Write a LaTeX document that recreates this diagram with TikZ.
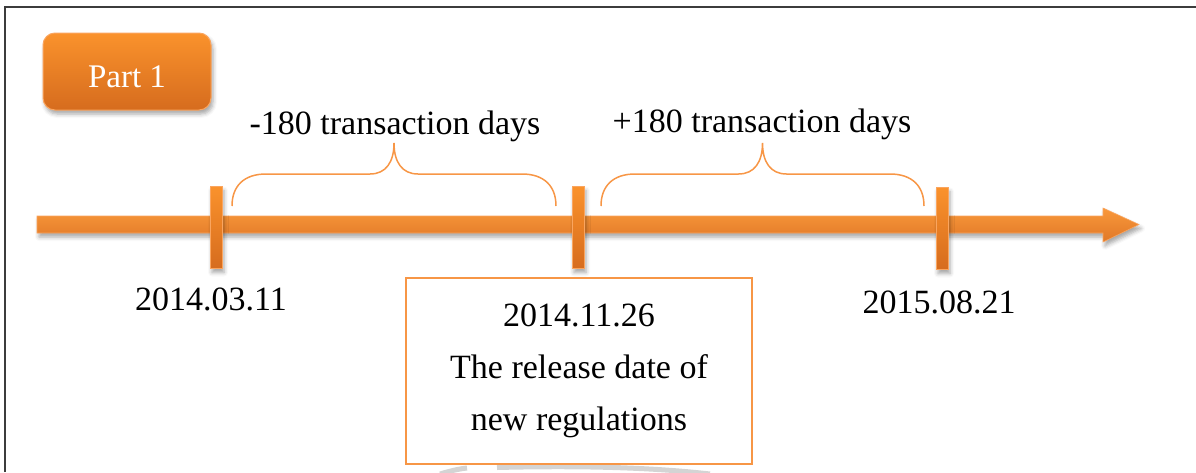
\documentclass[tikz,border=0pt]{standalone}
\usepackage{fontspec}
\setmainfont{Liberation Serif}
\usetikzlibrary{calc,shadows.blur}

\definecolor{accent}{RGB}{247,150,70}
\definecolor{bartop}{RGB}{249,152,58}
\definecolor{barbot}{RGB}{224,120,40}
\definecolor{btntop}{RGB}{250,146,44}
\definecolor{btnbot}{RGB}{214,108,30}
\definecolor{edgeor}{RGB}{250,165,95}
\definecolor{framecol}{RGB}{60,60,60}
\definecolor{ringgray}{RGB}{212,212,212}

\tikzset{
  softshadow/.style={blur shadow={shadow xshift=2pt, shadow yshift=-4pt,
      shadow blur radius=4pt, shadow opacity=35}},
  tickbar/.style={rectangle, inner sep=0pt, minimum width=12pt,
      minimum height=82pt, top color=btntop, bottom color=btnbot,
      draw=edgeor, line width=0.6pt, softshadow},
  button/.style={rectangle, rounded corners=12pt, minimum width=168pt,
      minimum height=77pt, top color=btntop, bottom color=btnbot,
      draw=edgeor, line width=1pt, text=white, text height=32pt,
      text depth=0pt, font=\fontsize{33}{40}\selectfont, softshadow},
  datelbl/.style={anchor=base, inner sep=0pt, font=\fontsize{34}{40}\selectfont},
  notebox/.style={rectangle, draw=accent, line width=2pt, fill=white,
      minimum width=346pt, minimum height=186pt, align=center,
      font=\fontsize{34}{52}\selectfont},
  ringarc/.style={draw=ringgray, line width=5pt},
  curlybrace/.style={draw=accent, line width=1.5pt, to path={
      let \p1=(\tikztostart), \p2=(\tikztotarget),
          \p3=($(\tikztostart)!0.5!(\tikztotarget)$) in
      (\tikztostart) .. controls (\x1,\y1+20pt) and (\x1+12pt,\y1+32pt)
        .. (\x1+34pt,\y1+32pt)
      -- (\x3-24pt,\y3+32pt) .. controls (\x3-8pt,\y3+32pt) and (\x3,\y3+44pt)
        .. (\x3,\y3+63pt)
      .. controls (\x3,\y3+44pt) and (\x3+8pt,\y3+32pt) .. (\x3+24pt,\y3+32pt)
      -- (\x2-34pt,\y2+32pt) .. controls (\x2-12pt,\y2+32pt) and (\x2,\y2+20pt)
        .. (\tikztotarget)}}
}

\begin{document}
\begin{tikzpicture}[x=1pt,y=-1pt]
\useasboundingbox (0,0) rectangle (1196,472);

% outer frame
\draw[framecol, line width=1.5pt] (5,472) -- (5,7) -- (1196,7);

% faint ring segments peeking out below the note box
\path[ringarc] (440,474) .. controls (450,471) and (458,469) .. (467,468);
\path[ringarc] (497,467.5) .. controls (560,466) and (640,466) .. (710,474);

% time axis
\path[top color=bartop, bottom color=barbot, draw=edgeor, line width=0.6pt, softshadow]
  (37,216) -- (1103,216) -- (1103,208) -- (1139,224.5) -- (1103,242)
  -- (1103,233) -- (37,233) -- cycle;

% date markers
\node[tickbar] (t1) at (216,227.5) {};
\node[tickbar] (t2) at (578,227.5) {};
\node[tickbar] (t3) at (942,228.5) {};

% section button
\node[button] (part) at (127,71.5) {Part 1};

% braces over the two periods
\coordinate (b1s) at (232,206);
\coordinate (b1e) at (556,206);
\coordinate (b2s) at (601,206);
\coordinate (b2e) at (924,206);
\draw[curlybrace] (b1s) to (b1e);
\draw[curlybrace] (b2s) to (b2e);

\node[datelbl] (before) at (395,134) {-180 transaction days};
\node[datelbl] (after) at (762,132) {+180 transaction days};

% dates
\node[datelbl] (d1) at (211,310) {2014.03.11};
\node[datelbl] (d3) at (939,313) {2015.08.21};

% release date note
\node[notebox] (note) at (579,371) {2014.11.26\\The release date of\\new regulations};
\end{tikzpicture}
\end{document}
